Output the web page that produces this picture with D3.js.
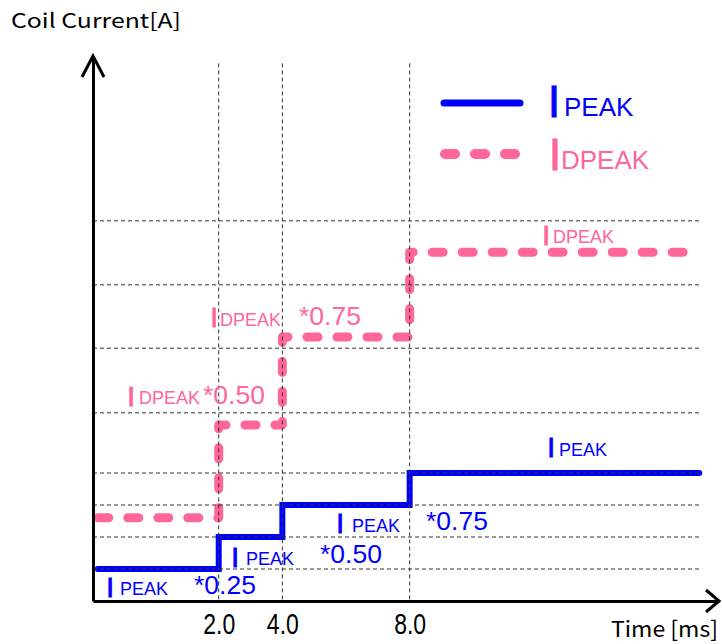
<!DOCTYPE html>
<html>
<head>
<meta charset="utf-8">
<script src="https://cdn.jsdelivr.net/npm/d3@7"></script>
<style>
  body { margin: 0; background: #fff; }
  svg { display: block; }
</style>
</head>
<body>
<div id="chart"></div>
<script>
// ---- data ----
var stepTimes   = [2.0, 4.0, 8.0];            // ms, where the current steps up
var tickLabels  = ["2.0", "4.0", "8.0"];
var ipeakLevels = [1, 2, 3, 4];               // I PEAK * 0.25 .. 1.00
var dpeakLevels = [2.6, 5.5, 8.25, 10.9];     // I DPEAK * 0.25 .. 1.00
var multipliers = [0.25, 0.50, 0.75, 1.00];
var gridLevels  = [1, 2, 3, 4, 5.88, 7.9, 9.88, 11.88];
var tStart = -1.8, tEndPeak = 17.1, tEndDpeak = 16.9;

var width = 722, height = 644;
var blue = "#0000ff", pink = "#ff6699";
var labelFont = "'Liberation Sans', Arial, sans-serif";
var axisFont = "'Noto Sans CJK JP', sans-serif";

var svg = d3.select("#chart").append("svg")
    .attr("width", width)
    .attr("height", height);

// Scales
var x = d3.scaleLinear().domain([-1.95, 17.72]).range([93, 719]);
var y = d3.scaleLinear().domain([0, 17]).range([601, 57]);

// Step lines
function stepPoints(levels, tEnd) {
    var pts = [[tStart, levels[0]]];
    stepTimes.forEach(function(t, i) { pts.push([t, levels[i + 1]]); });
    pts.push([tEnd, levels[levels.length - 1]]);
    return pts;
}
var line = d3.line()
    .x(function(d) { return x(d[0]); })
    .y(function(d) { return y(d[1]); })
    .curve(d3.curveStepAfter);

svg.append("path")
    .datum(stepPoints(dpeakLevels, tEndDpeak))
    .attr("d", line)
    .attr("fill", "none")
    .attr("stroke", pink)
    .attr("stroke-width", 9)
    .attr("stroke-linecap", "round")
    .attr("stroke-linejoin", "round")
    .attr("stroke-dasharray", "11,19");

svg.append("path")
    .datum(stepPoints(ipeakLevels, tEndPeak))
    .attr("d", line)
    .attr("fill", "none")
    .attr("stroke", blue)
    .attr("stroke-width", 6)
    .attr("stroke-linecap", "round")
    .attr("stroke-linejoin", "miter");

// Grid (drawn over the lines, as in the original)
svg.append("g").selectAll("line")
    .data(gridLevels)
    .join("line")
    .attr("x1", x.range()[0]).attr("x2", 702)
    .attr("y1", function(d) { return y(d); })
    .attr("y2", function(d) { return y(d); })
    .attr("stroke", "#333")
    .attr("stroke-width", 1)
    .attr("stroke-dasharray", "4,3");

svg.append("g").selectAll("line")
    .data(stepTimes)
    .join("line")
    .attr("x1", function(d) { return x(d); })
    .attr("x2", function(d) { return x(d); })
    .attr("y1", y(16.8)).attr("y2", y(0))
    .attr("stroke", "#333")
    .attr("stroke-width", 1)
    .attr("stroke-dasharray", "4,3");

// Axes
var xAxis = svg.append("g")
    .attr("transform", "translate(0," + y(0) + ")")
    .call(d3.axisBottom(x).tickValues(stepTimes).tickSize(0).tickSizeOuter(0)
        .tickFormat(function(d, i) { return tickLabels[i]; }));
xAxis.select(".domain").attr("stroke", "#000").attr("stroke-width", 3);
xAxis.selectAll("text")
    .attr("y", 33).attr("dy", 0)
    .attr("fill", "#000")
    .style("font-family", "'Liberation Sans Narrow', 'Liberation Sans', sans-serif")
    .style("font-size", "30px")
    .attr("textLength", 32)
    .attr("lengthAdjust", "spacingAndGlyphs");

var yAxis = svg.append("g")
    .attr("transform", "translate(" + x.range()[0] + ",0)")
    .call(d3.axisLeft(y).tickValues([]).tickSizeOuter(0));
yAxis.select(".domain").attr("stroke", "#000").attr("stroke-width", 3);

// Arrow heads
var x0 = x.range()[0], y0 = y(0), xTip = x.range()[1], yTip = y.range()[1] - 1;
svg.append("path")
    .attr("d", "M" + (x0 - 11) + "," + (yTip + 21) + "L" + x0 + "," + yTip + "L" + (x0 + 11) + "," + (yTip + 21))
    .attr("fill", "none").attr("stroke", "#000").attr("stroke-width", 3);
svg.append("path")
    .attr("d", "M" + (xTip - 13) + "," + (y0 - 11) + "L" + xTip + "," + y0 + "L" + (xTip - 13) + "," + (y0 + 11))
    .attr("fill", "none").attr("stroke", "#000").attr("stroke-width", 3);

// Axis titles
svg.append("text")
    .attr("x", 11).attr("y", 28)
    .style("font-family", axisFont).style("font-size", "20px")
    .attr("textLength", 170).attr("lengthAdjust", "spacingAndGlyphs")
    .text("Coil Current[A]");
svg.append("text")
    .attr("x", 611).attr("y", 637)
    .style("font-family", axisFont).style("font-size", "22px")
    .attr("textLength", 107).attr("lengthAdjust", "spacingAndGlyphs")
    .text("Time [ms]");

// Labels: big "I" + subscript-like name, and the multiplier
var fmt = d3.format(".2f");
function label(g, o) {
    var t = g.append("text")
        .attr("fill", o.color)
        .style("font-family", labelFont);
    t.append("tspan")
        .attr("x", o.barX - o.barSize * 0.094)
        .attr("y", o.barBottom)
        .attr("stroke", o.color)
        .attr("stroke-width", 0.8)
        .style("font-size", o.barSize + "px")
        .text("I");
    t.append("tspan")
        .attr("x", o.nameX)
        .attr("y", o.baseline)
        .style("font-size", o.nameSize + "px")
        .text(o.name);
    if (o.mult != null) {
        g.append("text")
            .attr("x", o.multX).attr("y", o.multBase)
            .attr("fill", o.color)
            .style("font-family", labelFont)
            .style("font-size", "26.5px")
            .text("*" + fmt(o.mult));
    }
}

var lg = svg.append("g");
// blue step labels
label(lg, { color: blue, name: "PEAK", barX: 109, barBottom: 597, barSize: 28, nameX: 120, baseline: 595, nameSize: 18, mult: multipliers[0], multX: 194, multBase: 594 });
label(lg, { color: blue, name: "PEAK", barX: 234, barBottom: 567, barSize: 28, nameX: 246, baseline: 565, nameSize: 18, mult: multipliers[1], multX: 320, multBase: 563 });
label(lg, { color: blue, name: "PEAK", barX: 339, barBottom: 533, barSize: 28, nameX: 352, baseline: 532, nameSize: 18, mult: multipliers[2], multX: 426, multBase: 530 });
label(lg, { color: blue, name: "PEAK", barX: 550, barBottom: 457, barSize: 28, nameX: 559, baseline: 456, nameSize: 18, mult: null });
// pink step labels
label(lg, { color: pink, name: "DPEAK", barX: 130, barBottom: 406, barSize: 28, nameX: 139, baseline: 404, nameSize: 18, mult: multipliers[1], multX: 203, multBase: 404 });
label(lg, { color: pink, name: "DPEAK", barX: 213, barBottom: 327, barSize: 28, nameX: 220, baseline: 326, nameSize: 18, mult: multipliers[2], multX: 299, multBase: 325 });
label(lg, { color: pink, name: "DPEAK", barX: 545, barBottom: 245, barSize: 28, nameX: 553, baseline: 243, nameSize: 18, mult: null });

// Legend
var leg = svg.append("g");
leg.append("line")
    .attr("x1", 444).attr("x2", 520).attr("y1", 103).attr("y2", 103)
    .attr("stroke", blue).attr("stroke-width", 7).attr("stroke-linecap", "round");
leg.append("line")
    .attr("x1", 445).attr("x2", 516).attr("y1", 154).attr("y2", 154)
    .attr("stroke", pink).attr("stroke-width", 10).attr("stroke-linecap", "round")
    .attr("stroke-dasharray", "10,20");
label(leg, { color: blue, name: "PEAK", barX: 552, barBottom: 117, barSize: 45, nameX: 564, baseline: 116, nameSize: 26, mult: null });
label(leg, { color: pink, name: "DPEAK", barX: 553, barBottom: 170, barSize: 45, nameX: 561, baseline: 169, nameSize: 26, mult: null });
</script>
</body>
</html>
